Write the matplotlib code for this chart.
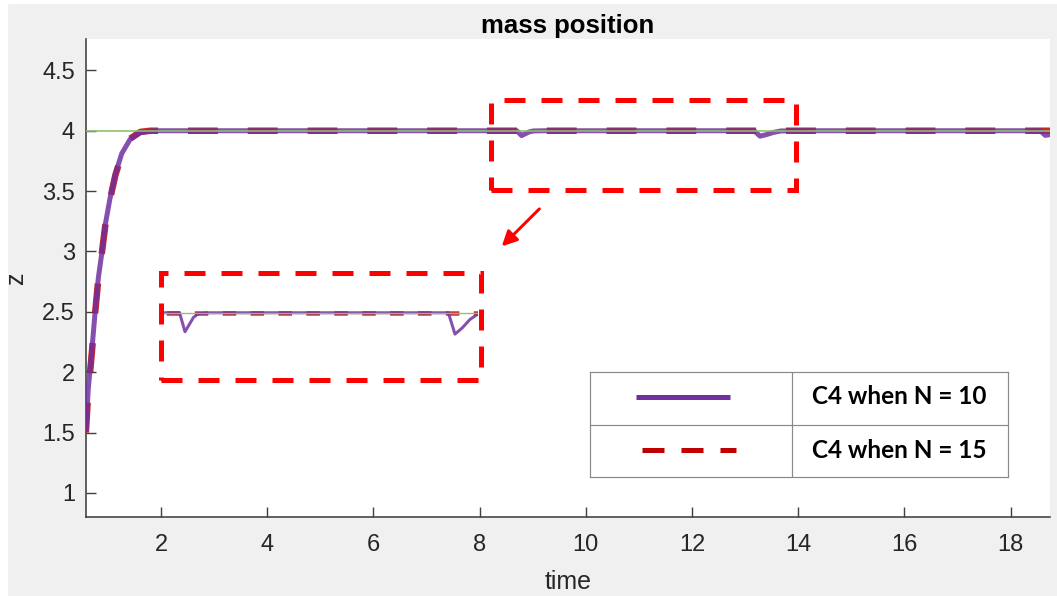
import matplotlib
matplotlib.use("Agg")
import matplotlib.pyplot as plt
from matplotlib.patches import Rectangle

# ---------------- data ----------------
title = "mass position"
x_label = "time"
y_label = "z"
series_labels = ["C4 when N = 10", "C4 when N = 15"]

x_ticks = [2, 4, 6, 8, 10, 12, 14, 16, 18]
y_ticks = [1, 1.5, 2, 2.5, 3, 3.5, 4, 4.5]
x_range = [0.588, 18.74]
y_range = [0.80, 4.76]

reference_t = [0.588, 18.74]
reference_z = [4.0, 4.0]

t_n10 = [0.59, 0.63, 0.70, 0.76, 0.82, 0.89, 0.95, 1.04, 1.14, 1.26, 1.42, 1.61, 1.85, 2.2,
         8.70, 8.79, 8.86, 8.93, 9.01, 9.2,
         13.17, 13.28, 13.40, 13.53, 13.67, 13.9,
         18.56, 18.65, 18.74]
z_n10 = [1.53, 1.86, 2.19, 2.50, 2.78, 3.00, 3.22, 3.44, 3.64, 3.81, 3.93, 3.985, 4.0, 4.0,
         4.0, 3.960, 3.975, 3.990, 3.998, 4.0,
         4.0, 3.955, 3.968, 3.986, 3.998, 4.0,
         4.0, 3.962, 3.968]

t_n15 = [0.585, 0.63, 0.70, 0.76, 0.82, 0.89, 0.95, 1.04, 1.14, 1.26, 1.42, 1.61, 1.80, 18.74]
z_n15 = [1.50, 1.83, 2.17, 2.49, 2.77, 3.00, 3.21, 3.43, 3.63, 3.80, 3.935, 3.99, 4.0, 4.0]

# ---------------- style ----------------
W, H = 1057, 596
PURPLE = "#7030A0"
DRED = "#C00000"
GREEN = "#8cc068"
RED = "#ff0000"
TXT = "#262626"

def px(v):  # pixels -> points at dpi 100
    return v * 0.72

plt.rcParams["font.family"] = ["Liberation Sans", "DejaVu Sans"]

fig = plt.figure(figsize=(W / 100, H / 100), dpi=100, facecolor="#f0f0f0")

def fig_rect(l, t, r, b):
    return [l / W, 1 - b / H, (r - l) / W, (b - t) / H]

# thin white screenshot border
fig.patches.append(Rectangle((0, 0), 7 / W, 1, transform=fig.transFigure, color="white", zorder=0))
fig.patches.append(Rectangle((0, 1 - 3 / H), 1, 3 / H, transform=fig.transFigure, color="white", zorder=0))

ax = fig.add_axes(fig_rect(86, 39, 1050, 517))
ax.set_facecolor("white")

ax.plot(t_n15, z_n15, color=DRED, lw=px(6.5), ls=(0, (4.6, 4.6)), alpha=0.85,
        solid_capstyle="butt", zorder=3)
ax.plot(t_n10, z_n10, color=PURPLE, lw=px(5), alpha=0.85, zorder=4,
        solid_joinstyle="round")
ax.plot(reference_t, reference_z, color=GREEN, lw=px(1.6), zorder=5)

ax.set_xlim(*x_range)
ax.set_ylim(*y_range)
ax.set_xticks(x_ticks)
ax.set_yticks(y_ticks)
ax.set_xticklabels([f"{v:g}" for v in x_ticks])
ax.set_yticklabels([f"{v:g}" for v in y_ticks])
for s in ["top", "right"]:
    ax.spines[s].set_visible(False)
for s in ["left", "bottom"]:
    ax.spines[s].set_color("#404040")
    ax.spines[s].set_linewidth(px(1.6))
ax.tick_params(direction="in", length=px(10), width=px(1.4), color="#404040",
               labelsize=17, labelcolor=TXT)
ax.tick_params(axis="x", pad=12)
ax.tick_params(axis="y", pad=8)
ax.set_title(title, fontsize=18.5, fontweight="bold", pad=4)
ax.set_xlabel(x_label, fontsize=18, color=TXT, labelpad=10)
ax.set_ylabel(y_label, fontsize=18, color=TXT, labelpad=10)

# zoom box in main axes and the arrow
box_lw = px(5)
box_ls = (0, (4.2, 3.2))
ax.add_patch(Rectangle((8.215, 3.506), 13.953 - 8.215, 4.256 - 3.506, fill=False,
                       edgecolor=RED, lw=box_lw, ls=box_ls, zorder=6))
ax.add_patch(Rectangle((2.0, 1.939), 8.027 - 2.0, 2.825 - 1.939, fill=False,
                       edgecolor=RED, lw=box_lw, ls=box_ls, zorder=6))
ax.annotate("", xy=(8.417, 3.042), xytext=(9.125, 3.3525),
            arrowprops=dict(arrowstyle="-|>,head_length=0.9,head_width=0.45",
                            color=RED, lw=px(3), shrinkA=0, shrinkB=0), zorder=6)

# magnified inset
ins = fig.add_axes(fig_rect(164, 271, 478.3, 377.3))
ins.set_axis_off()
ins.patch.set_alpha(0)
ins.plot(t_n15, z_n15, color=DRED, lw=px(4.5), ls=(0, (3.0, 3.2)), alpha=0.8, zorder=3)
ins.plot(t_n10, z_n10, color=PURPLE, lw=px(3), alpha=0.85, zorder=4)
ins.plot(reference_t, reference_z, color=GREEN, lw=px(1.3), zorder=5)
ins.set_xlim(8.441, 13.668)
ins.set_ylim(3.864, 4.088)

# table-like legend
lg = fig.add_axes(fig_rect(590, 372.3, 1007.7, 477.3))
lg.set_xlim(590, 1007.7)
lg.set_ylim(477.3, 372.3)
lg.set_xticks([])
lg.set_yticks([])
lg.set_facecolor("white")
for s in lg.spines.values():
    s.set_color("#8a8a8a")
    s.set_linewidth(px(1.2))
lg.axhline(425, color="#8a8a8a", lw=px(1.2))
lg.axvline(791.7, color="#8a8a8a", lw=px(1.2))
lg.plot([635.7, 730], [397, 397], color=PURPLE, lw=px(5), solid_capstyle="butt")
lg.plot([641.7, 735.7], [450, 450], color=DRED, lw=px(5), ls=(0, (4.4, 3.4)),
        dash_capstyle="butt")
for label, yy in zip(series_labels, [397, 450]):
    lg.text(899, yy, label, ha="center", va="center", fontsize=17.5,
            fontweight="bold", family=["Lato", "DejaVu Sans"], color="black")

fig.savefig("out.png", dpi=100, facecolor=fig.get_facecolor())
